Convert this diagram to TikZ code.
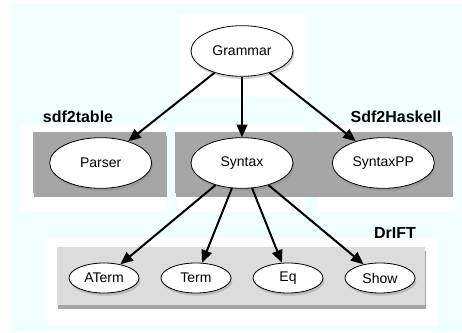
\documentclass[tikz,border=0pt]{standalone}
\usepackage{fontspec}
\setmainfont{Liberation Sans}
\usetikzlibrary{arrows.meta,positioning,shadows,shapes}

\definecolor{bgcyan}{RGB}{240,255,255}
\definecolor{clusterdark}{RGB}{166,166,166}
\definecolor{clusterlight}{RGB}{220,220,220}

\begin{document}
\begin{tikzpicture}[x=0.75pt,y=0.75pt,>={Triangle[length=9.5pt,width=8pt]},line width=1.5pt,
    mod node/.style={ellipse,draw,line width=0.6pt,fill=white,inner sep=0pt,minimum width=76.5pt,minimum height=38pt,font=\fontsize{10.5}{12}\selectfont,drop shadow={opacity=0.35,shadow xshift=1pt,shadow yshift=-2pt}},
    small node/.style={mod node,minimum width=52.5pt,minimum height=22.5pt},
    halo/.style={fill=white,draw=none},
    cluster/.style={draw=none,drop shadow={opacity=0.7,shadow xshift=0.5pt,shadow yshift=-3pt}},
    group label/.style={font=\bfseries\fontsize{12}{14}\selectfont}]

    % page and background
    \useasboundingbox (-242,51) rectangle (220,-282);
    \fill[white] (-242,51) rectangle (220,-282);
    \fill[bgcyan] (-231,47) rectangle (220,-280);

    % white areas round the groups
    \fill[halo] (-64,36) rectangle (63,-46);
    \fill[halo] (-220,-74) rectangle (-75,-161);
    \fill[halo] (-65,-74) rectangle (63,-161);
    \fill[halo] (76,-74) rectangle (215,-161);
    \fill[halo] (-195,-187) rectangle (196,-275);

    % tool boxes
    \path[cluster,fill=clusterdark] (-209,-81) rectangle (-76,-142);
    \path[cluster,fill=clusterdark] (-67,-81) rectangle (210,-142);
    \path[cluster,fill=clusterlight] (-185,-196) rectangle (183,-254);

    \node[group label] (sdflabel) at (-164,-66) {sdf2table};
    \node[group label] (haskelllabel) at (154,-66) {Sdf2Haskell};
    \node[group label] (driftlabel) at (153,-182) {DrIFT};

    \node[mod node] (Grammar) {Grammar};
    \node[mod node] (Syntax) [below of = Grammar, node distance=84pt] {Syntax};
    \node[mod node] (Parser) [left of = Syntax, node distance=106pt] {Parser};
    \node[mod node] (SyntaxPP) [right of = Syntax, node distance=106pt] {SyntaxPP};

    \node[small node] (ATerm) at (-138,-227) {ATerm};
    \foreach \curr/\prev in {Term/ATerm,Eq/Term,Show/Eq}{
        \node[small node] (\curr) [right of = \prev, node distance=69pt] {\curr};
    }

    \path[->]
        (Grammar) edge (Parser)
        (Grammar) edge (Syntax)
        (Grammar) edge (SyntaxPP)
    ;

    \foreach \curr in {ATerm,Term,Eq,Show}{
        \path[->] (Syntax) edge (\curr);
    }

\end{tikzpicture}
\end{document}
